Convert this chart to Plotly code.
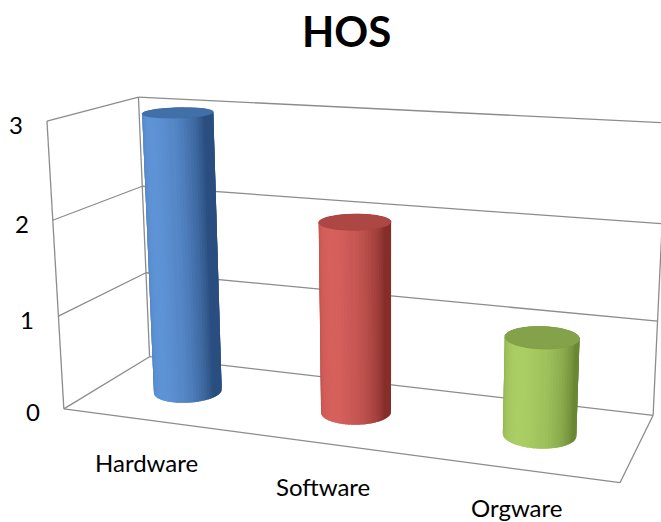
import numpy as np
import plotly.graph_objects as go

# ---------------- data ----------------
categories = ["Hardware", "Software", "Orgware"]
values = [3, 2, 1]
tick_values = [0, 1, 2, 3]
title_text = "HOS"

# ---------------- style ----------------
W, H = 661, 522
FONT = "Lato"
GRID_COLOR = "#8C8C8C"
SIDE_LIGHT = ["#5E93D6", "#D6605C", "#AACD64"]
SIDE_DARK = ["#2A4E80", "#862E2B", "#6A8734"]
TOP_COLOR = ["#4170A8", "#AC4744", "#83A249"]
RX, RY = 0.062, 0.2     # cylinder radii in box units (width, depth)
YC = 0.5                # cylinder depth position
N_STRIPS = 72

# perspective fit of the 3D box (world: X 0..1 left-right, Y 0..1 front-back, Z value)
BOX_W = [(0, 0, 0), (0, 0, 3), (0, 1, 3), (0, 1, 0), (1, 1, 0), (1, 0, 0), (1, 1, 3), (0, 0, 1), (0, 0, 2)]
BOX_PX = [(63, 409), (47, 121), (138, 97), (150, 357), (653, 415), (620, 483), (667, 123), (59, 315), (53, 221)]


def fit_camera(p3, p2, s=500.0):
    rows = []
    for (X, Y, Z), (u, v) in zip(p3, p2):
        u, v = u / s, v / s
        rows.append([X, Y, Z, 1, 0, 0, 0, 0, -u * X, -u * Y, -u * Z, -u])
        rows.append([0, 0, 0, 0, X, Y, Z, 1, -v * X, -v * Y, -v * Z, -v])
    _, _, vt = np.linalg.svd(np.array(rows, dtype=float))
    P = vt[-1].reshape(3, 4)
    P[:2] *= s
    return P


P = fit_camera(BOX_W, BOX_PX)


def proj(X, Y, Z):
    h = P @ np.array([X, Y, Z, 1.0])
    return h[0] / h[2], h[1] / h[2], abs(h[2])


def hex2rgb(c):
    c = c.lstrip("#")
    return np.array([int(c[i:i + 2], 16) for i in (0, 2, 4)], dtype=float)


def rgb(a):
    a = np.clip(np.round(a), 0, 255).astype(int)
    return f"rgb({a[0]},{a[1]},{a[2]})"


fig = go.Figure()

# ---------------- walls / floor lines ----------------
zmax = max(tick_values)
segs = []
for z in tick_values:
    segs.append(((0, 1, z), (1, 1, z)))          # back wall
    segs.append(((0, 0, z), (0, 1, z)))          # left wall
segs += [((0, 0, 0), (0, 0, zmax)), ((0, 1, 0), (0, 1, zmax)), ((1, 1, 0), (1, 1, zmax)),
         ((0, 0, 0), (1, 0, 0)), ((1, 0, 0), (1, 1, 0))]
lx, ly = [], []
for a, b in segs:
    pa, pb = proj(*a), proj(*b)
    lx += [pa[0], pb[0], None]
    ly += [pa[1], pb[1], None]
fig.add_trace(go.Scatter(x=lx, y=ly, mode="lines", line=dict(color=GRID_COLOR, width=1.3),
                         hoverinfo="skip", showlegend=False))

# ---------------- cylinders ----------------
n = len(categories)
tL = -np.pi / 2 - 0.3
for i, (cat, val) in enumerate(zip(categories, values)):
    xc = (i + 0.5) / n
    light, dark = hex2rgb(SIDE_LIGHT[i]), hex2rgb(SIDE_DARK[i])
    ts = np.linspace(0, 2 * np.pi, N_STRIPS + 1)
    dt = ts[1] - ts[0]
    strips = []
    for k in range(N_STRIPS):
        tm = 0.5 * (ts[k] + ts[k + 1])
        t0, t1 = tm - 0.9 * dt, tm + 0.9 * dt     # overlap neighbours to hide seams
        pts = [proj(xc + RX * np.cos(t0), YC + RY * np.sin(t0), 0),
               proj(xc + RX * np.cos(t1), YC + RY * np.sin(t1), 0),
               proj(xc + RX * np.cos(t1), YC + RY * np.sin(t1), val),
               proj(xc + RX * np.cos(t0), YC + RY * np.sin(t0), val)]
        depth = proj(xc + RX * np.cos(tm), YC + RY * np.sin(tm), val / 2)[2]
        f = max(0.0, np.cos(tm - tL)) ** 0.9
        col = rgb(dark + (light - dark) * f)
        strips.append((depth, pts, col))
    strips.sort(key=lambda s: -s[0])
    for _, pts, col in strips:
        fig.add_trace(go.Scatter(x=[p[0] for p in pts] + [pts[0][0]], y=[p[1] for p in pts] + [pts[0][1]],
                                 mode="lines", fill="toself", fillcolor=col,
                                 line=dict(color=col, width=0), hoverinfo="skip", showlegend=False))
    te = np.linspace(0, 2 * np.pi, 90)
    top = [proj(xc + RX * np.cos(t), YC + RY * np.sin(t), val) for t in te]
    fig.add_trace(go.Scatter(x=[p[0] for p in top], y=[p[1] for p in top], mode="lines", fill="toself",
                             fillcolor=TOP_COLOR[i], line=dict(color=TOP_COLOR[i], width=0.8),
                             hoverinfo="skip", showlegend=False))

# ---------------- labels ----------------
ann = []
for v in tick_values:
    x, y, _ = proj(0, 0, v)
    ann.append(dict(x=x - 31, y=y + 3, text=str(v), showarrow=False, xanchor="center", yanchor="middle",
                    font=dict(family=FONT, size=24, color="#000000")))
for i, cat in enumerate(categories):
    x, y, _ = proj((i + 0.5) / n, 0, 0)
    ann.append(dict(x=x, y=min(y + 43, H - 15), text=cat, showarrow=False, xanchor="center", yanchor="middle",
                    font=dict(family=FONT, size=24, color="#000000")))
ann.append(dict(x=346, y=31, text=f"<b>{title_text}</b>", showarrow=False, xanchor="center", yanchor="middle",
                font=dict(family=FONT, size=42, color="#000000")))

fig.update_layout(
    width=W, height=H, autosize=False,
    margin=dict(l=0, r=0, t=0, b=0),
    paper_bgcolor="white", plot_bgcolor="white",
    xaxis=dict(range=[0, W], visible=False, fixedrange=True),
    yaxis=dict(range=[H, 0], visible=False, fixedrange=True),
    annotations=ann, showlegend=False,
)

fig.write_html("out.html", config={"displayModeBar": False, "staticPlot": True},
               post_script="document.body.style.margin='0';document.body.style.overflow='hidden';")
